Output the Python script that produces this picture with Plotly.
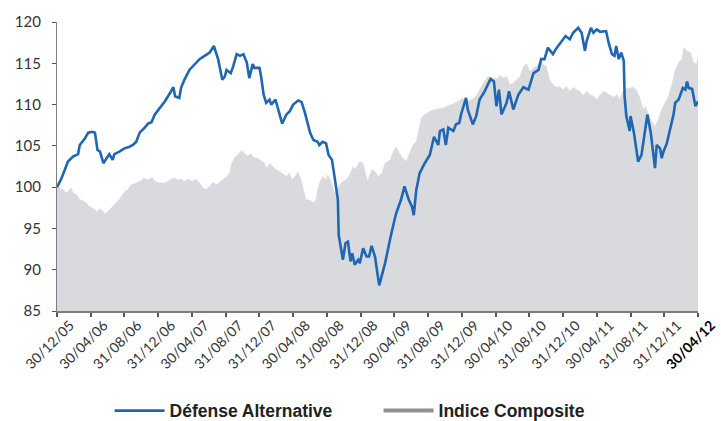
import plotly.graph_objects as go

# x values are months elapsed since 30/12/2005
tick_months = [0, 4, 8, 12, 16, 20, 24, 28, 32, 36, 40, 44, 48, 52, 56, 60, 64, 68, 72, 76]
tick_labels = ["30/12/05", "30/04/06", "31/08/06", "31/12/06", "30/04/07", "31/08/07",
               "31/12/07", "30/04/08", "31/08/08", "31/12/08", "30/04/09", "31/08/09",
               "31/12/09", "30/04/10", "31/08/10", "31/12/10", "30/04/11", "31/08/11",
               "31/12/11", "30/04/12"]

da_months = [0, 0.5, 1.3, 1.9, 2.5, 2.7, 3.3, 3.7, 4.2, 4.5, 4.8, 5.1, 5.5, 5.8, 6.2, 6.6, 6.8,
             7.4, 8.0, 8.6, 9.0, 9.4, 9.8, 10.4, 10.8, 11.2, 11.6, 12.2, 12.8, 13.4, 13.8, 14.0,
             14.5, 14.7, 15.1, 15.7, 16.3, 16.9, 17.5, 18.1, 18.6, 19.1, 19.6, 19.9, 20.1, 20.6,
             20.9, 21.3, 21.7, 22.1, 22.5, 22.8, 23.2, 23.4, 24.0, 24.2, 24.5, 24.8, 25.2, 25.4,
             25.9, 26.2, 26.7, 27.2, 27.6, 28.0, 28.6, 29.0, 29.4, 30.0, 30.4, 30.9, 31.1, 31.5,
             31.9, 32.2, 32.6, 32.9, 33.3, 33.4, 33.9, 34.2, 34.5, 34.8, 35.0, 35.3, 35.7, 35.9,
             36.3, 36.7, 37.0, 37.3, 37.7, 38.2, 38.9, 39.6, 40.2, 40.8, 41.2, 41.7, 42.1, 42.3,
             42.6, 43.0, 43.6, 44.2, 44.7, 45.2, 45.4, 45.8, 46.1, 46.4, 47.0, 47.3, 47.7, 47.9,
             48.5, 48.7, 49.3, 49.7, 50.1, 50.7, 51.4, 51.8, 52.1, 52.4, 52.7, 53.3, 53.6, 54.1,
             54.7, 55.3, 55.9, 56.5, 57.1, 57.4, 57.8, 58.2, 58.8, 59.2, 59.8, 60.3, 60.8, 61.2,
             61.8, 62.2, 62.6, 62.8, 63.3, 63.6, 64.0, 64.4, 65.1, 65.4, 65.8, 66.1, 66.3, 66.6,
             66.9, 67.2, 67.3, 67.5, 67.9, 68.0, 68.4, 68.9, 69.3, 69.6, 70.0, 70.4, 70.9, 71.1,
             71.5, 71.7, 71.9, 72.3, 72.7, 73.1, 73.3, 73.7, 74.2, 74.5, 74.7, 74.9, 75.3, 75.7,
             76.0]
da_values = [100.0, 101.0, 103.1, 103.7, 104.0, 105.1, 105.9, 106.6, 106.7, 106.6, 104.5, 104.3,
             102.9, 103.4, 104.0, 103.3, 104.0, 104.3, 104.7, 104.9, 105.1, 105.5, 106.6, 107.2,
             107.7, 107.85, 108.8, 109.6, 110.4, 111.4, 112.1, 111.0, 110.8, 112.0, 113.0, 114.2,
             114.9, 115.5, 115.9, 116.3, 117.1, 115.5, 113.0, 113.4, 114.2, 113.8, 114.65, 116.1,
             115.9, 116.1, 115.1, 113.2, 114.9, 114.45, 114.45, 113.4, 111.2, 110.2, 110.6, 110.0,
             110.6, 109.4, 107.7, 108.8, 109.2, 110.0, 110.5, 110.3, 109.0, 106.6, 105.7, 105.5,
             105.1, 105.5, 105.3, 103.9, 103.3, 101.3, 98.5, 94.2, 91.2, 93.2, 93.4, 91.0, 92.0,
             90.6, 91.2, 90.8, 92.6, 91.6, 91.6, 92.9, 91.6, 88.1, 90.8, 94.2, 96.8, 98.5, 100.1,
             98.5, 97.6, 96.6, 99.7, 101.7, 102.9, 103.9, 106.1, 105.1, 106.8, 107.0, 105.1, 107.2,
             106.8, 107.6, 107.8, 108.8, 110.8, 109.4, 107.6, 108.6, 110.6, 111.6, 113.1, 112.8,
             109.8, 111.8, 108.8, 110.2, 111.6, 109.4, 111.2, 112.1, 111.8, 113.8, 114.2, 115.5,
             115.5, 116.9, 116.1, 116.8, 117.7, 118.3, 117.9, 118.7, 119.3, 118.7, 116.5, 117.7,
             119.3, 118.7, 119.1, 118.8, 118.9, 117.5, 116.1, 115.9, 117.1, 115.5, 116.3, 115.3,
             111.0, 108.6, 106.8, 108.6, 106.6, 103.1, 103.9, 105.9, 108.8, 106.6, 102.3, 105.1,
             104.7, 103.5, 104.3, 105.3, 107.2, 108.8, 110.2, 110.6, 112.0, 111.8, 112.8, 112.0,
             111.9, 109.8, 110.4]

ic_months = [0, 0.7, 1.1, 1.7, 1.9, 2.3, 2.7, 3.3, 3.9, 4.5, 4.7, 5.1, 5.7, 6.2, 6.8, 7.4, 7.9,
             8.4, 8.8, 9.4, 10.0, 10.3, 10.8, 11.3, 11.6, 12.2, 12.8, 13.4, 13.8, 14.3, 14.7, 15.1,
             15.5, 16.1, 16.5, 16.9, 17.3, 17.7, 18.1, 18.5, 18.9, 19.3, 19.7, 20.1, 20.5, 20.7,
             21.1, 21.5, 21.9, 22.3, 22.6, 23.0, 23.4, 23.8, 24.2, 24.6, 24.8, 25.2, 25.6, 26.0,
             26.4, 26.8, 27.2, 27.6, 27.8, 28.2, 28.6, 29.0, 29.2, 29.5, 30.0, 30.4, 30.7, 30.9,
             31.2, 31.5, 31.9, 32.1, 32.5, 32.9, 33.2, 33.5, 33.9, 34.3, 34.7, 35.1, 35.3, 35.7,
             35.9, 36.3, 36.8, 37.3, 37.7, 38.1, 38.5, 38.9, 39.5, 39.8, 40.2, 40.6, 41.0, 41.4,
             41.8, 42.2, 42.6, 43.0, 43.2, 43.6, 44.2, 44.8, 45.8, 46.4, 47.0, 47.6, 48.0, 48.6,
             49.2, 49.7, 50.1, 50.7, 51.1, 51.7, 52.3, 52.5, 52.9, 53.3, 53.7, 54.1, 54.5, 54.9,
             55.3, 55.7, 56.1, 56.5, 56.9, 57.2, 57.6, 58.0, 58.4, 58.8, 59.2, 59.6, 60.0, 60.4,
             60.8, 61.2, 61.6, 62.0, 62.4, 62.8, 63.2, 63.6, 64.0, 64.4, 64.8, 65.2, 65.6, 66.0,
             66.4, 66.7, 67.1, 67.5, 67.9, 68.3, 68.7, 69.1, 69.5, 69.8, 70.1, 70.5, 70.9, 71.3,
             71.7, 72.1, 72.5, 72.9, 73.3, 73.7, 74.1, 74.3, 74.7, 75.1, 75.5, 75.8, 76.0]
ic_values = [100.1, 99.7, 99.3, 99.9, 99.3, 99.1, 98.5, 98.25, 97.6, 97.3, 97.0, 97.4, 96.8, 97.2,
             97.9, 98.5, 99.3, 99.7, 100.3, 100.5, 100.8, 101.1, 100.9, 101.2, 100.7, 100.5, 100.5,
             100.9, 101.1, 100.9, 101.0, 100.7, 101.0, 100.7, 101.0, 100.5, 99.9, 99.75, 100.1,
             100.6, 100.3, 100.6, 100.9, 101.3, 101.8, 102.9, 103.6, 104.0, 104.45, 104.0, 103.8,
             104.0, 103.5, 103.5, 103.2, 102.9, 102.3, 102.9, 102.5, 102.1, 101.9, 101.6, 101.3,
             101.7, 100.9, 101.3, 101.8, 100.7, 99.7, 98.5, 98.4, 98.1, 98.5, 99.7, 100.7, 101.3,
             100.9, 101.5, 100.7, 99.3, 99.7, 100.3, 100.7, 100.9, 101.5, 102.5, 102.1, 102.7,
             103.1, 102.9, 100.7, 102.1, 101.9, 101.3, 101.7, 102.9, 103.3, 104.1, 104.9, 104.1,
             103.5, 103.1, 104.1, 105.1, 105.5, 107.2, 108.4, 108.8, 109.2, 109.4, 109.6, 109.9,
             110.1, 110.4, 110.8, 110.4, 110.6, 111.0, 111.8, 112.8, 113.4, 113.2, 113.2, 113.6,
             113.2, 113.4, 112.4, 112.6, 113.0, 113.4, 114.65, 114.9, 114.0, 114.45, 114.65, 115.1,
             114.9, 114.65, 113.0, 112.4, 112.1, 112.2, 111.8, 112.2, 111.6, 112.1, 111.8, 111.6,
             111.1, 111.6, 111.2, 111.0, 110.6, 111.2, 111.6, 111.4, 111.2, 110.9, 111.2, 110.6,
             111.6, 111.9, 112.0, 112.1, 111.8, 110.8, 109.4, 109.8, 108.8, 108.0, 107.4, 108.2,
             109.4, 110.2, 111.0, 112.4, 114.2, 115.1, 115.5, 116.9, 116.5, 116.3, 115.1, 114.9,
             115.7]

BLUE = "#1F66B3"
AREA = "#D9DADE"
LEGEND_GREY = "#8F8F94"

ticktext = tick_labels[:-1] + ["<b><span style='color:#000000'>" + tick_labels[-1] + "</span></b>"]

fig = go.Figure()
fig.add_trace(go.Scatter(
    x=ic_months, y=ic_values, mode="lines", fill="tozeroy",
    fillcolor=AREA, line=dict(color=AREA, width=0.5),
    showlegend=False, hoverinfo="skip", name="Indice Composite"))
fig.add_trace(go.Scatter(
    x=da_months, y=da_values, mode="lines",
    line=dict(color=BLUE, width=2.6), name="Défense Alternative"))
fig.add_trace(go.Scatter(
    x=[None], y=[None], mode="lines",
    line=dict(color=LEGEND_GREY, width=4), name="Indice Composite"))

fig.update_layout(
    width=721, height=421,
    margin=dict(l=57, r=23, t=22, b=110, autoexpand=False),
    paper_bgcolor="white", plot_bgcolor="white",
    font=dict(family="Lato", size=13, color="#333333"),
    showlegend=True,
    legend=dict(orientation="h", x=0.082, xanchor="left", y=-0.345, yanchor="middle",
                font=dict(family="Liberation Sans", size=17.5, color="#222222", weight="bold"),
                entrywidth=204, entrywidthmode="pixels", itemwidth=50,
                bgcolor="rgba(0,0,0,0)"),
)
fig.update_xaxes(
    range=[0, 76], tickmode="array", tickvals=tick_months, ticktext=ticktext,
    tickangle=-45, showgrid=False, zeroline=False, automargin=False,
    showline=True, linecolor="#7F7F7F", linewidth=1.5,
    ticks="outside", ticklen=4, tickcolor="#555555", tickwidth=1.5,
    ticklabelshift=13, ticklabelstandoff=-5,
    tickfont=dict(family="Lato", size=14, color="#333333"))
fig.update_yaxes(
    range=[85, 120], dtick=5, tick0=85, showgrid=False, zeroline=False, automargin=False,
    showline=True, linecolor="#7F7F7F", linewidth=1.2,
    ticks="outside", ticklen=4, tickcolor="#555555",
    ticklabelstandoff=8,
    tickfont=dict(family="Lato", size=15, color="#333333"))

fig.write_html("out.html", config={"displayModeBar": False},
               post_script="document.body.style.margin='0px';document.body.style.padding='0px';")
